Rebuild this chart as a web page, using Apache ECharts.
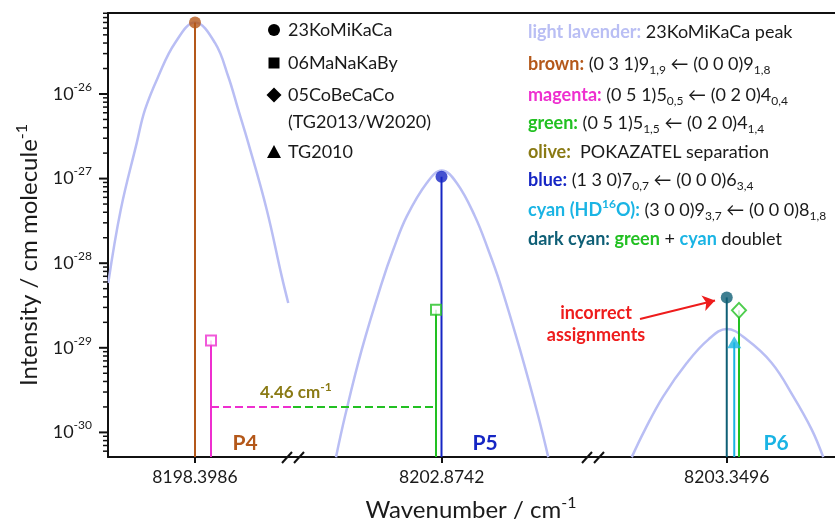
<!DOCTYPE html>
<html><head><meta charset="utf-8">
<script src="https://cdn.jsdelivr.net/npm/echarts@6/dist/echarts.min.js"></script>
<style>html,body{margin:0;padding:0;background:#fff}#c{width:835px;height:524px}</style>
</head><body><div id="c"></div>
<script>
// ================= DATA =================
const centerWavenumbers = [8198.3986, 8202.8742, 8203.3496];
const segmentNames = ['P4', 'P5', 'P6'];

// P4 segment: transitions (stems)
const p4LineWn = [8198.3986, 8198.4050];
const p4LineI = [7.0e-26, 1.22e-29];
const p4LineSource = ['23KoMiKaCa', '06MaNaKaBy'];
const p4LineAssign = ['brown', 'magenta'];
// P4 23KoMiKaCa peak profile
const p4PeakWn = [8198.3639, 8198.3689, 8198.3753, 8198.3786, 8198.3839, 8198.3906, 8198.3986, 8198.4066, 8198.4119, 8198.4159, 8198.4199, 8198.4273, 8198.4333, 8198.4359];
const p4PeakI = [5.83e-29, 4.29e-28, 2.64e-27, 6.52e-27, 1.61e-26, 4.01e-26, 7.01e-26, 4.01e-26, 1.61e-26, 6.52e-27, 2.64e-27, 4.29e-28, 6.98e-29, 3.39e-29];

// P5 segment
const p5LineWn = [8202.8741, 8202.8719];
const p5LineI = [1.05e-27, 2.82e-29];
const p5LineSource = ['23KoMiKaCa', '06MaNaKaBy'];
const p5LineAssign = ['blue', 'green'];
const p5PeakWn = [8202.8319, 8202.8355, 8202.8422, 8202.8502, 8202.8548, 8202.8602, 8202.8682, 8202.8742, 8202.8802, 8202.8875, 8202.8928, 8202.8975, 8202.9055, 8202.9128, 8202.9168];
const p5PeakI = [5.1e-31, 1.55e-30, 9.5e-30, 5.83e-29, 1.44e-28, 3.57e-28, 8.87e-28, 1.25e-27, 8.87e-28, 3.57e-28, 1.44e-28, 5.83e-29, 9.5e-30, 1.55e-30, 5.1e-31];

// P6 segment
const p6LineWn = [8203.3496, 8203.3526, 8203.3545];
const p6LineI = [3.94e-29, 1.16e-29, 2.77e-29];
const p6LineSource = ['23KoMiKaCa', 'TG2010', '05CoBeCaCo'];
const p6LineAssign = ['darkcyan', 'cyan', 'green'];
const p6PeakWn = [8203.3116, 8203.3169, 8203.3242, 8203.3336, 8203.3422, 8203.3496, 8203.3576, 8203.3676, 8203.3762, 8203.3836, 8203.3882];
const p6PeakI = [5.1e-31, 1.08e-30, 2.67e-30, 6.61e-30, 1.25e-29, 1.67e-29, 1.25e-29, 6.61e-30, 2.67e-30, 1.08e-30, 5.1e-31];

// POKAZATEL separation (magenta P4 line -> green P5 line)
const separationLevel = 2.03e-30;
const separationText = '4.46';

// "incorrect assignments" box & arrow (P6 segment)
const incorrectBoxWn = [8203.3460, 8203.3582];
const incorrectBoxI = [5.24e-29, 2.11e-29];
const arrowWn = [8203.3149, 8203.3449];
const arrowI = [2.19e-29, 3.63e-29];

// Axes
const xRanges = [[8198.3638, 8198.4378], [8202.8147, 8202.9347], [8203.2961, 8203.3929]];
const yMin = 5.12e-31, yMax = 9.06e-26;
const yTickValues = [1e-30, 1e-29, 1e-28, 1e-27, 1e-26];
const minorMultipliers = [2, 3, 4, 5, 6, 7, 8, 9];
const minorDecades = [1e-31, 1e-30, 1e-29, 1e-28, 1e-27, 1e-26];

// Legend texts
const legendNames = ['23KoMiKaCa', '06MaNaKaBy', '05CoBeCaCo', '(TG2013/W2020)', 'TG2010'];

// ================= STYLE =================
const FONT = 'Lato, "Noto Sans", sans-serif';
const TXT = '#1a1a1a';
const COL = {
  lavender: '#b9bef4', brown: '#b4581a', magenta: '#ee2fcf', green: '#22c022',
  olive: '#8a7a14', blue: '#1626c4', cyan: '#1ab4e4', darkcyan: '#0f5f76', red: '#ee1c1c'
};
const SYM = {
  '23KoMiKaCa': { symbol: 'circle', size: 12, open: false },
  '06MaNaKaBy': { symbol: 'rect', size: 10, open: true },
  '05CoBeCaCo': { symbol: 'diamond', size: [14, 15], open: true },
  'TG2010': { symbol: 'triangle', size: [14, 12], open: false }
};
const GRID_X = [108, 293, 593, 835];
const PLOT_TOP = 13, PLOT_BOTTOM = 457;

const segments = [
  { wn: p4LineWn, I: p4LineI, src: p4LineSource, asg: p4LineAssign, pWn: p4PeakWn, pI: p4PeakI },
  { wn: p5LineWn, I: p5LineI, src: p5LineSource, asg: p5LineAssign, pWn: p5PeakWn, pI: p5PeakI },
  { wn: p6LineWn, I: p6LineI, src: p6LineSource, asg: p6LineAssign, pWn: p6PeakWn, pI: p6PeakI }
];

const grids = [], xAxes = [], yAxes = [], series = [];
const supRich = (fs) => ({ sup: { fontSize: fs, lineHeight: fs, verticalAlign: 'top', fontFamily: FONT, color: TXT } });
const isDecade = v => { const e = Math.log10(v); return Math.abs(e - Math.round(e)) < 1e-6; };

segments.forEach((seg, i) => {
  grids.push({ left: GRID_X[i], top: PLOT_TOP, width: GRID_X[i + 1] - GRID_X[i], height: PLOT_BOTTOM - PLOT_TOP, containLabel: false });
  xAxes.push({
    type: 'value', gridIndex: i, position: 'bottom', min: xRanges[i][0], max: xRanges[i][1],
    axisLine: { show: true, onZero: false, lineStyle: { color: '#111', width: 2 } },
    axisTick: { show: true, customValues: [centerWavenumbers[i]], length: 6, lineStyle: { color: '#111', width: 2 } },
    axisLabel: { show: true, customValues: [centerWavenumbers[i]], formatter: v => v.toFixed(4), fontSize: 17.5, fontFamily: FONT, color: TXT, margin: 11 },
    splitLine: { show: false }
  });
  xAxes.push({
    type: 'value', gridIndex: i, position: 'top', min: xRanges[i][0], max: xRanges[i][1],
    axisLine: { show: true, onZero: false, lineStyle: { color: '#111', width: 2 } },
    axisTick: { show: false }, axisLabel: { show: false }, splitLine: { show: false }
  });
  yAxes.push(i === 0 ? {
    type: 'log', logBase: 10, gridIndex: 0, min: yMin, max: yMax,
    name: 'Intensity / cm molecule{sup|-1}', nameLocation: 'middle', nameGap: 64,
    nameTextStyle: { fontSize: 24, fontFamily: FONT, color: TXT, lineHeight: 30, padding: [0, 40, 0, 0], rich: supRich(16) },
    axisLine: { show: true, onZero: false, lineStyle: { color: '#111', width: 2 } },
    axisTick: { show: false },
    axisLabel: {
      show: true, showMinLabel: false, showMaxLabel: false, margin: 16, fontSize: 18, fontFamily: FONT, color: TXT, lineHeight: 26,
      formatter: v => isDecade(v) ? '10{sup|' + Math.round(Math.log10(v)) + '}' : '', rich: supRich(12)
    },
    splitLine: { show: false }, minorTick: { show: false }
  } : {
    type: 'log', logBase: 10, gridIndex: i, min: yMin, max: yMax, show: false,
    splitLine: { show: false }
  });

  // peak profile
  series.push({
    type: 'line', xAxisIndex: 2 * i, yAxisIndex: i, smooth: 0.4, showSymbol: false, silent: true, z: 1,
    lineStyle: { color: COL.lavender, width: 2.5 },
    data: seg.pWn.map((w, k) => [w, seg.pI[k]])
  });
  // stems
  series.push({
    type: 'custom', xAxisIndex: 2 * i, yAxisIndex: i, silent: true, z: 2,
    data: seg.wn.map((w, k) => [w, seg.I[k]]),
    renderItem: (params, api) => {
      const p = api.coord([api.value(0), api.value(1)]);
      const cs = params.coordSys;
      return { type: 'line', shape: { x1: p[0], y1: p[1], x2: p[0], y2: cs.y + cs.height },
        style: { stroke: COL[seg.asg[params.dataIndex]], lineWidth: 2 } };
    }
  });
  // markers
  const markerSeries = {
    type: 'scatter', xAxisIndex: 2 * i, yAxisIndex: i, z: 3, silent: true,
    data: seg.wn.map((w, k) => {
      const s = SYM[seg.src[k]], c = COL[seg.asg[k]];
      return { value: [w, seg.I[k]], symbol: s.symbol, symbolSize: s.size,
        itemStyle: s.open ? { color: '#fff', borderColor: c, borderWidth: 2 } : { color: c, borderWidth: 0 } };
    })
  };
  if (i === 0) {
    markerSeries.markLine = { silent: true, symbol: ['none', 'none'], label: { show: false },
      lineStyle: { color: COL.magenta, width: 2, type: [8, 4] },
      data: [[{ coord: [p4LineWn[1], separationLevel] }, { coord: [xRanges[0][1], separationLevel] }]] };
  }
  if (i === 1) {
    markerSeries.markLine = { silent: true, symbol: ['none', 'none'], label: { show: false },
      lineStyle: { color: COL.green, width: 2, type: [8, 4] },
      data: [[{ coord: [xRanges[1][0], separationLevel] }, { coord: [p5LineWn[1], separationLevel] }]] };
  }
  if (i === 2) {
    markerSeries.markLine = { silent: true, symbol: ['none', 'arrow'], symbolSize: 12, label: { show: false },
      lineStyle: { color: COL.red, width: 2, type: 'solid' },
      data: [[{ coord: [arrowWn[0], arrowI[0]] }, { coord: [arrowWn[1], arrowI[1]] }]] };
    markerSeries.markArea = { silent: true, label: { show: false },
      itemStyle: { color: 'rgba(0,0,0,0)', borderColor: COL.red, borderWidth: 2, borderType: [2, 3] },
      data: [[{ coord: [incorrectBoxWn[0], incorrectBoxI[0]] }, { coord: [incorrectBoxWn[1], incorrectBoxI[1]] }]] };
  }
  series.push(markerSeries);
});

// major (decade) and minor log ticks on the y axis
const tickData = yTickValues.map(v => [xRanges[0][0], v, 9]);
minorDecades.forEach(d => minorMultipliers.forEach(m => {
  const v = m * d;
  if (v > yMin && v < yMax) tickData.push([xRanges[0][0], v, 5]);
}));
series.push({
  type: 'custom', xAxisIndex: 0, yAxisIndex: 0, silent: true, clip: false, z: 5,
  data: tickData,
  renderItem: (params, api) => {
    const p = api.coord([api.value(0), api.value(1)]);
    const len = api.value(2);
    const x0 = params.coordSys.x;
    return { type: 'line', shape: { x1: x0 - len, y1: p[1], x2: x0, y2: p[1] },
      style: { stroke: '#111', lineWidth: len > 6 ? 2 : 1.5 } };
  }
});

// ================= GRAPHIC (legend, annotations) =================
const g = [];
const txt = (x, y, text, extra) => Object.assign({ type: 'text', x, y, silent: true,
  style: Object.assign({ text, fontSize: 18, fontFamily: FONT, fill: TXT, align: 'left', verticalAlign: 'middle', lineHeight: 24 }, extra || {}) });
const tok = (fs, color, weight, extra) => Object.assign({ fontSize: fs, fontFamily: FONT, fontWeight: weight || 'normal', fill: color, lineHeight: 24 }, extra || {});
const RICH = {
  sub: tok(12, TXT, 'normal', { verticalAlign: 'bottom', lineHeight: 12 }),
  lav: tok(18, COL.lavender, 'bold'), brown: tok(18, COL.brown, 'bold'), magenta: tok(18, COL.magenta, 'bold'),
  green: tok(18, COL.green, 'bold'), olive: tok(18, COL.olive, 'bold'), blue: tok(18, COL.blue, 'bold'),
  cyan: tok(18, COL.cyan, 'bold'), cyanSup: tok(12, COL.cyan, 'bold', { verticalAlign: 'top', lineHeight: 12 }),
  dcyan: tok(18, COL.darkcyan, 'bold')
};

// legend symbols (black)
const LX = 274, LT = 288;
const legendRowsY = [30, 63, 95, 122, 152];
g.push({ type: 'circle', silent: true, shape: { cx: LX, cy: legendRowsY[0], r: 6 }, style: { fill: '#000' } });
g.push({ type: 'rect', silent: true, shape: { x: LX - 5.5, y: legendRowsY[1] - 5.5, width: 11, height: 11 }, style: { fill: '#000' } });
g.push({ type: 'polygon', silent: true, shape: { points: [[LX, legendRowsY[2] - 7.5], [LX + 7.5, legendRowsY[2]], [LX, legendRowsY[2] + 7.5], [LX - 7.5, legendRowsY[2]]] }, style: { fill: '#000' } });
g.push({ type: 'polygon', silent: true, shape: { points: [[LX, legendRowsY[4] - 7], [LX + 7, legendRowsY[4] + 6], [LX - 7, legendRowsY[4] + 6]] }, style: { fill: '#000' } });
legendNames.forEach((n, k) => g.push(txt(LT, legendRowsY[k], n)));

// colour key
const key = [
  '{lav|light lavender:} 23KoMiKaCa peak',
  '{brown|brown:} (0 3 1)9{sub|1,9} ← (0 0 0)9{sub|1,8}',
  '{magenta|magenta:} (0 5 1)5{sub|0,5} ← (0 2 0)4{sub|0,4}',
  '{green|green:} (0 5 1)5{sub|1,5} ← (0 2 0)4{sub|1,4}',
  '{olive|olive:}  POKAZATEL separation',
  '{blue|blue:} (1 3 0)7{sub|0,7} ← (0 0 0)6{sub|3,4}',
  '{cyan|cyan (HD}{cyanSup|16}{cyan|O):} (3 0 0)9{sub|3,7} ← (0 0 0)8{sub|1,8}',
  '{dcyan|dark cyan:} {green|green} + {cyan|cyan} doublet'
];
const keyRowsY = [32, 64, 95, 123, 152, 180, 210, 239];
key.forEach((t, k) => g.push(txt(528, keyRowsY[k], t, { rich: RICH })));

// segment labels
const segLabelPos = [[245, 443], [485, 443], [776, 443]];
const segLabelCol = [COL.brown, COL.blue, COL.cyan];
segmentNames.forEach((n, k) => g.push(txt(segLabelPos[k][0], segLabelPos[k][1], n, { fontSize: 21, fontWeight: 'bold', fill: segLabelCol[k], align: 'center' })));

// separation label
g.push(txt(260, 393, separationText + ' cm{s|-1}', { fontSize: 17, fontWeight: 'bold', fill: COL.olive,
  rich: { s: tok(12, COL.olive, 'bold', { verticalAlign: 'top', lineHeight: 12 }) } }));

// incorrect assignments
g.push(txt(596, 313, 'incorrect', { fontSize: 18, fontWeight: 'bold', fill: COL.red, align: 'center' }));
g.push(txt(596, 335, 'assignments', { fontSize: 18, fontWeight: 'bold', fill: COL.red, align: 'center' }));

// x axis name
g.push(txt(471, 510, 'Wavenumber / cm{s|-1}', { fontSize: 24, align: 'center', lineHeight: 30,
  rich: { s: tok(16, TXT, 'normal', { verticalAlign: 'top', lineHeight: 16 }) } }));

// axis break marks
[GRID_X[1], GRID_X[2]].forEach(cx => {
  [[-11, -1], [1, 11]].forEach(o => g.push({ type: 'line', silent: true, z: 100,
    shape: { x1: cx + o[0], y1: PLOT_BOTTOM + 6, x2: cx + o[1], y2: PLOT_BOTTOM - 5 }, style: { stroke: '#111', lineWidth: 2 } }));
});

const chart = echarts.init(document.getElementById('c'));
chart.setOption({
  backgroundColor: '#fff',
  animation: false,
  grid: grids, xAxis: xAxes, yAxis: yAxes, series: series,
  graphic: { elements: g }
});
</script></body></html>
